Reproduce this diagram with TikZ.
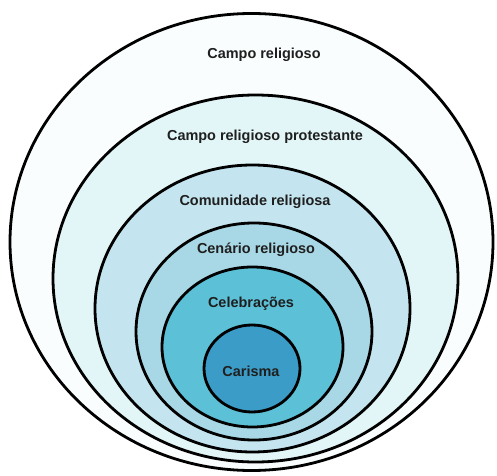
\documentclass[tikz,border=0pt]{standalone}
\usepackage{fontspec}
\setmainfont{Liberation Sans}
\begin{document}
\begin{tikzpicture}[x=1bp,y=-1bp,
  ring/.style={draw=black, line width=2.8bp},
  lbl/.style={font=\fontsize{14.5}{17}\selectfont\bfseries, text=black!88, inner sep=0pt}]
\definecolor{c1}{HTML}{F9FDFD}
\definecolor{c2}{HTML}{E2F6F8}
\definecolor{c3}{HTML}{C4E5F0}
\definecolor{c4}{HTML}{A8D8E6}
\definecolor{c5}{HTML}{5CC0D7}
\definecolor{c6}{HTML}{3B9CC7}
\useasboundingbox (0,0) rectangle (497,476);
\fill[white] (0,0) rectangle (497,476);
\filldraw[ring, fill=c1] (251.5,242) ellipse [x radius=241.5, y radius=228.5];
\filldraw[ring, fill=c2] (255.5,278.5) ellipse [x radius=202.5, y radius=183.5];
\filldraw[ring, fill=c3] (252.5,308.5) ellipse [x radius=157.5, y radius=143.5];
\filldraw[ring, fill=c4] (254,331.5) ellipse [x radius=118, y radius=108.5];
\filldraw[ring, fill=c5] (252.5,347) ellipse [x radius=90.5, y radius=80];
\filldraw[ring, fill=c6] (252,368.5) ellipse [x radius=48, y radius=43.5];
\node[lbl] (t1) at (264,55) {Campo religioso};
\node[lbl] (t2) at (265,137) {Campo religioso protestante};
\node[lbl] (t3) at (255,202) {Comunidade religiosa};
\node[lbl] (t4) at (256,250) {Cenário religioso};
\node[lbl] (t5) at (251,304) {Celebrações};
\node[lbl] (t6) at (251,371) {Carisma};
\end{tikzpicture}
\end{document}
